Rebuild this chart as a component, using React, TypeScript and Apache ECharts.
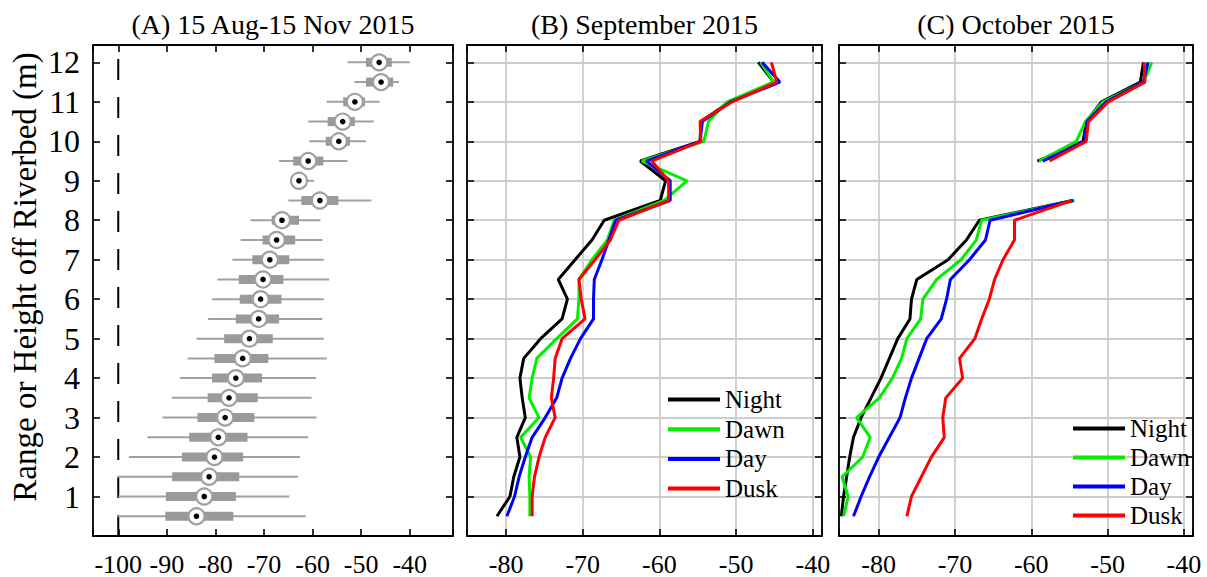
import React, { useEffect, useRef } from "react";
import * as echarts from "echarts";

// Heights above the riverbed (m) at which each profile is sampled
const heights = [0.5, 1, 1.5, 2, 2.5, 3, 3.5, 4, 4.5, 5, 5.5, 6, 6.5, 7, 7.5, 8, 8.5, 9, 9.5, 10, 10.5, 11, 11.5, 12];

// (A) Box-plot statistics per height, 15 Aug - 15 Nov 2015 (dB)
const boxLow = [-100.2, -100.0, -100.2, -97.8, -94.0, -90.9, -89.0, -87.3, -85.7, -83.9, -81.5, -80.7, -79.6, -76.5, -74.8, -72.8, -65.0, -64.3, -66.9, -60.7, -60.9, -57.1, -51.4, -52.8];
const boxQ1 = [-90.3, -90.2, -88.9, -86.9, -85.4, -83.7, -81.6, -80.7, -80.2, -78.2, -75.8, -75.0, -75.2, -72.4, -70.3, -68.4, -62.3, -63.8, -64.0, -57.3, -56.9, -53.7, -49.0, -49.0];
const boxMedian = [-83.9, -82.3, -81.3, -80.2, -79.4, -78.0, -77.2, -75.8, -74.4, -73.0, -71.1, -70.7, -70.2, -68.8, -67.4, -66.3, -58.5, -62.8, -60.9, -54.6, -53.8, -51.3, -45.9, -46.3];
const boxQ3 = [-76.3, -75.8, -75.1, -74.3, -73.4, -72.0, -71.3, -70.4, -69.1, -68.2, -66.9, -66.4, -66.0, -64.8, -63.6, -62.8, -54.7, -61.8, -57.8, -52.3, -51.3, -49.2, -43.4, -43.7];
const boxHigh = [-61.4, -64.8, -63.0, -62.6, -60.9, -59.2, -60.2, -59.3, -57.1, -57.7, -58.0, -57.7, -56.6, -57.7, -58.0, -58.4, -47.9, -59.7, -52.8, -49.0, -47.4, -46.2, -42.2, -40.0];
const noiseFloor = -100;

// (B) September 2015 mean profiles (dB)
const sepNight = [-81.2, -79.5, -79.0, -78.2, -78.6, -77.5, -77.9, -78.2, -77.7, -75.5, -72.7, -72.0, -73.2, -71.0, -68.8, -67.2, -59.9, -59.2, -62.5, -54.7, -54.6, -50.8, -45.1, -47.1];
const sepDawn = [-76.9, -76.9, -77.0, -76.8, -78.1, -75.7, -77.0, -76.6, -76.0, -73.4, -70.7, -70.5, -70.5, -68.8, -66.8, -65.9, -59.4, -56.4, -62.3, -54.2, -53.6, -51.2, -45.1, -46.8];
const sepDay = [-79.9, -78.9, -78.3, -77.5, -76.6, -74.9, -73.4, -72.7, -71.6, -70.3, -68.6, -68.6, -68.5, -67.5, -66.6, -65.7, -58.6, -58.6, -61.7, -54.7, -54.4, -50.7, -44.3, -46.6];
const sepDusk = [-76.6, -76.6, -76.3, -75.7, -74.9, -73.6, -74.1, -73.8, -73.6, -72.7, -69.7, -70.2, -70.5, -68.4, -66.4, -65.3, -58.8, -58.8, -61.0, -54.6, -54.7, -50.5, -44.7, -45.4];

// (C) October 2015 mean profiles (dB); no data at 9 m
const octNight = [-84.9, -84.6, -84.2, -83.8, -83.3, -82.3, -81.0, -79.7, -78.6, -77.5, -75.9, -75.7, -75.0, -70.9, -68.5, -66.8, -54.6, null, -59.2, -53.2, -52.8, -50.8, -45.7, -45.3];
const octDawn = [-84.6, -84.0, -84.8, -82.1, -81.1, -82.9, -79.9, -78.2, -77.0, -76.3, -74.5, -74.2, -72.4, -69.2, -67.2, -66.5, -54.3, null, -59.0, -54.1, -52.9, -50.6, -45.3, -44.2];
const octDay = [-83.3, -82.3, -81.2, -80.0, -78.6, -77.2, -76.5, -75.7, -74.7, -73.7, -71.8, -71.1, -70.6, -68.1, -66.0, -65.4, -54.5, null, -58.5, -53.0, -52.7, -50.2, -45.3, -44.7];
const octDusk = [-76.3, -75.7, -74.4, -73.1, -71.4, -71.6, -71.2, -69.0, -69.4, -67.4, -66.5, -65.5, -64.8, -63.7, -62.2, -62.2, -54.7, null, -57.6, -52.8, -52.5, -49.9, -45.1, -45.2];

const periodNames = ["Night", "Dawn", "Day", "Dusk"];
const periodColors = ["#000000", "#00ee00", "#0000ff", "#ff0000"];

const titles = ["(A) 15 Aug-15 Nov 2015", "(B) September 2015", "(C) October 2015"];
const yAxisTitle = "Range or Height off Riverbed (m)";

const FONT = "'Liberation Serif', 'Times New Roman', Times, serif";
const Y_MIN = 0;
const Y_MAX = 12.44;

const panels = [
  { left: 93, width: 360, xMin: -105.2, xMax: -31.1, split: 7, gridLines: false },
  { left: 467, width: 355, xMin: -85.1, xMax: -38.8, split: 5, gridLines: true },
  { left: 839, width: 354, xMin: -85.2, xMax: -38.8, split: 5, gridLines: true },
];
const GRID_TOP = 45;
const GRID_HEIGHT = 491;

const xLabel = (v: number) => (Math.abs(v % 10) < 1e-6 ? String(v) : "");
const yLabel = (v: number) => (Math.abs(v - Math.round(v)) < 1e-6 && v >= 1 ? String(Math.round(v)) : "");

const gridLineStyle = { color: "#cdcdcd", width: 1.8 };
const axisLineStyle = { color: "#000", width: 1.8 };
const tickStyle = { inside: true, length: 7, lineStyle: { color: "#000", width: 1.6 } };

function pairs(values: (number | null)[]) {
  return values.map((v, i) => [v === null ? NaN : v, heights[i]]);
}

export default function App() {
  const ref = useRef<HTMLDivElement>(null);

  useEffect(() => {
    if (!ref.current) return;
    const chart = echarts.init(ref.current, undefined, { renderer: "svg" });

    const grid = panels.map((p) => ({ left: p.left, top: GRID_TOP, width: p.width, height: GRID_HEIGHT }));

    const xAxis: any[] = [];
    const yAxis: any[] = [];
    panels.forEach((p, gi) => {
      xAxis.push({
        type: "value", gridIndex: gi, position: "bottom", min: p.xMin, max: p.xMax, splitNumber: p.split,
        axisLine: { show: true, onZero: false, lineStyle: axisLineStyle },
        axisTick: tickStyle,
        axisLabel: { formatter: xLabel, color: "#000", fontFamily: FONT, fontSize: 26, margin: 15 },
        splitLine: { show: p.gridLines, lineStyle: gridLineStyle },
      });
      xAxis.push({
        type: "value", gridIndex: gi, position: "top", min: p.xMin, max: p.xMax, splitNumber: p.split,
        axisLine: { show: true, onZero: false, lineStyle: axisLineStyle },
        axisTick: tickStyle,
        axisLabel: { show: false },
        splitLine: { show: false },
      });
      yAxis.push({
        type: "value", gridIndex: gi, position: "left", min: Y_MIN, max: Y_MAX, splitNumber: 12,
        axisLine: { show: true, onZero: false, lineStyle: axisLineStyle },
        axisTick: tickStyle,
        axisLabel: { show: gi === 0, formatter: yLabel, color: "#000", fontFamily: FONT, fontSize: 32, margin: 13 },
        splitLine: { show: p.gridLines, lineStyle: gridLineStyle },
      });
      yAxis.push({
        type: "value", gridIndex: gi, position: "right", min: Y_MIN, max: Y_MAX, splitNumber: 12,
        axisLine: { show: true, onZero: false, lineStyle: axisLineStyle },
        axisTick: tickStyle,
        axisLabel: { show: false },
        splitLine: { show: false },
      });
    });

    const boxData = heights.map((h, i) => [h, boxLow[i], boxQ1[i], boxMedian[i], boxQ3[i], boxHigh[i]]);

    const boxSeries = {
      type: "custom",
      name: "box",
      xAxisIndex: 0,
      yAxisIndex: 0,
      data: boxData,
      encode: { x: [1, 2, 3, 4, 5], y: 0 },
      renderItem: (_params: any, api: any) => {
        const h = api.value(0);
        const pLo = api.coord([api.value(1), h]);
        const pQ1 = api.coord([api.value(2), h]);
        const pMed = api.coord([api.value(3), h]);
        const pQ3 = api.coord([api.value(4), h]);
        const pHi = api.coord([api.value(5), h]);
        return {
          type: "group",
          children: [
            { type: "line", shape: { x1: pLo[0], y1: pLo[1], x2: pHi[0], y2: pHi[1] }, style: { stroke: "#a0a0a0", lineWidth: 2 } },
            { type: "rect", shape: { x: pQ1[0], y: pQ1[1] - 4.5, width: pQ3[0] - pQ1[0], height: 9 }, style: { fill: "#9a9a9a" } },
            { type: "circle", shape: { cx: pMed[0], cy: pMed[1], r: 8 }, style: { fill: "#ffffff", stroke: "#a0a0a0", lineWidth: 2.2 } },
            { type: "circle", shape: { cx: pMed[0], cy: pMed[1], r: 2.8 }, style: { fill: "#000000" } },
          ],
        };
      },
      z: 3,
    };

    const floorSeries = {
      type: "line",
      name: "floor",
      xAxisIndex: 0,
      yAxisIndex: 0,
      data: [[noiseFloor, Y_MIN], [noiseFloor, Y_MAX]],
      symbol: "none",
      lineStyle: { color: "#000", width: 2, type: [21, 17] },
      z: 2,
    };

    const profileSeries = (vals: (number | null)[][], axisIdx: number) =>
      vals.map((v, k) => ({
        type: "line",
        name: periodNames[k],
        xAxisIndex: axisIdx,
        yAxisIndex: axisIdx,
        data: pairs(v),
        symbol: "none",
        connectNulls: false,
        color: periodColors[k],
        lineStyle: { color: periodColors[k], width: 3 },
        itemStyle: { color: periodColors[k] },
        z: 3 + k,
      }));

    const legendBase = {
      orient: "vertical",
      icon: "rect",
      itemWidth: 52,
      itemHeight: 4,
      padding: 0,
      data: periodNames,
      textStyle: { color: "#000", fontFamily: FONT, fontSize: 25, lineHeight: 25 },
      selectedMode: false,
    };

    chart.setOption({
      animation: false,
      backgroundColor: "#ffffff",
      title: titles.map((t, i) => ({
        text: t,
        left: panels[i].left + panels[i].width / 2,
        top: 10,
        textAlign: "center",
        padding: 0,
        textStyle: { color: "#000", fontFamily: FONT, fontSize: 28, fontWeight: "normal" },
      })),
      legend: [
        { ...legendBase, itemGap: 4.7, left: 668, top: 387 },
        { ...legendBase, itemGap: 4, left: 1073, top: 416 },
      ],
      graphic: [
        {
          type: "text",
          x: 25,
          y: 277,
          rotation: Math.PI / 2,
          style: {
            text: yAxisTitle,
            fill: "#000",
            fontFamily: FONT,
            fontSize: 33,
            align: "center",
            verticalAlign: "middle",
          },
        },
      ],
      grid,
      xAxis,
      yAxis,
      series: [floorSeries, boxSeries, ...profileSeries([sepNight, sepDawn, sepDay, sepDusk], 2), ...profileSeries([octNight, octDawn, octDay, octDusk], 4)],
    });

    return () => chart.dispose();
  }, []);

  return <div ref={ref} style={{ position: "absolute", left: 0, top: 0, width: 1207, height: 577 }} />;
}
